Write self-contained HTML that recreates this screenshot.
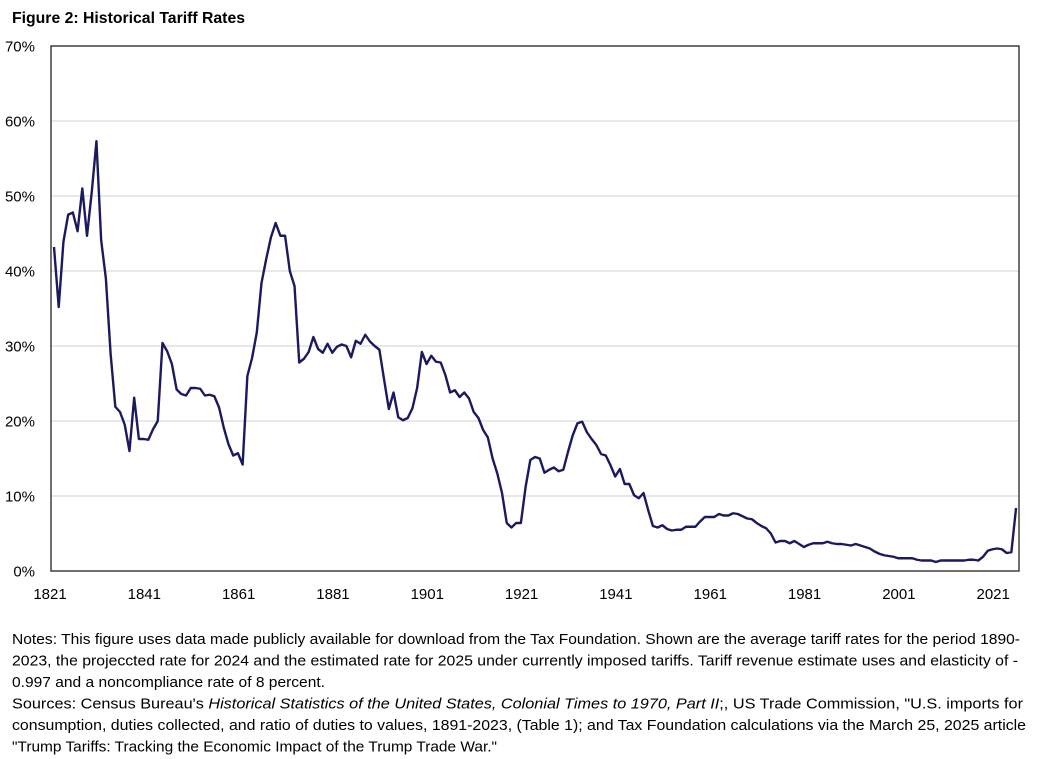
<!DOCTYPE html>
<html><head><meta charset="utf-8"><style>
html,body{margin:0;padding:0;background:#fff;width:1044px;height:759px;overflow:hidden}
svg{display:block;font-family:"Liberation Sans",sans-serif}
</style></head><body>
<svg id="chart" width="1044" height="759" viewBox="0 0 1044 759">
<text x="12" y="23" font-size="15.5" font-weight="bold" fill="#000" textLength="233" lengthAdjust="spacingAndGlyphs">Figure 2: Historical Tariff Rates</text>
<g id="grid"></g>
<g id="yticks"></g>
<g id="xticks"></g>
<rect x="51" y="46" width="968" height="525" fill="none" stroke="#222" stroke-width="1.3"/>
<path id="line" fill="none" stroke="#1c1a5e" stroke-width="2.4" stroke-linejoin="round"/>
<g font-size="15" fill="#000">
<text x="12" y="644" textLength="1008" lengthAdjust="spacingAndGlyphs">Notes: This figure uses data made publicly available for download from the Tax Foundation. Shown are the average tariff rates for the period 1890-</text>
<text x="12" y="665.5" textLength="1006" lengthAdjust="spacingAndGlyphs">2023,  the projeccted rate for 2024  and the estimated rate for 2025  under currently imposed tariffs. Tariff revenue estimate uses and elasticity of -</text>
<text x="12" y="687" textLength="313" lengthAdjust="spacingAndGlyphs">0.997  and a  noncompliance rate of 8 percent.</text>
<text x="12" y="708.5" textLength="1011" lengthAdjust="spacingAndGlyphs">Sources: Census Bureau's <tspan font-style="italic">Historical Statistics of the United States, Colonial Times to 1970,  Part II</tspan>;, US Trade Commission, "U.S. imports for</text>
<text x="12" y="730" textLength="1014" lengthAdjust="spacingAndGlyphs">consumption, duties collected, and ratio of duties to values, 1891-2023,  (Table 1); and Tax Foundation calculations via the March 25,  2025 article</text>
<text x="12" y="751.5" textLength="485" lengthAdjust="spacingAndGlyphs">"Trump Tariffs: Tracking the Economic Impact of the Trump Trade War."</text>
</g>
</svg>
<script>
const startYear = 1821;
const tariffRates = [
43.2,35.2,43.9,47.5,47.8,45.3,51.0,44.7,50.5,57.3,
44.1,39.0,29.0,21.9,21.2,19.5,16.0,23.1,17.6,17.6,
17.5,18.9,20.0,30.4,29.3,27.6,24.2,23.6,23.4,24.4,
24.4,24.3,23.4,23.5,23.3,21.8,19.1,16.9,15.4,15.7,
14.2,26.0,28.4,31.8,38.4,41.6,44.5,46.4,44.7,44.7,
40.0,38.0,27.8,28.3,29.2,31.2,29.6,29.1,30.3,29.1,
29.9,30.2,30.0,28.5,30.7,30.3,31.5,30.6,30.0,29.5,
25.5,21.6,23.8,20.5,20.1,20.4,21.7,24.4,29.2,27.6,
28.7,27.9,27.8,26.1,23.8,24.1,23.2,23.8,23.0,21.2,
20.4,18.8,17.8,15.0,13.0,10.4,6.4,5.8,6.4,6.4,
11.2,14.8,15.2,15.0,13.1,13.5,13.8,13.3,13.5,15.9,
18.1,19.7,19.9,18.5,17.6,16.8,15.6,15.4,14.1,12.6,
13.6,11.6,11.6,10.1,9.7,10.4,8.1,6.0,5.8,6.1,
5.6,5.4,5.5,5.5,5.9,5.9,5.9,6.6,7.2,7.2,
7.2,7.6,7.4,7.4,7.7,7.6,7.3,7.0,6.9,6.4,
6.0,5.7,5.0,3.8,4.0,4.0,3.7,4.0,3.6,3.2,
3.5,3.7,3.7,3.7,3.9,3.7,3.6,3.6,3.5,3.4,
3.6,3.4,3.2,3.0,2.6,2.3,2.1,2.0,1.9,1.7,
1.7,1.7,1.7,1.5,1.4,1.4,1.4,1.2,1.4,1.4,
1.4,1.4,1.4,1.4,1.5,1.5,1.4,1.9,2.7,2.9,
3.0,2.9,2.4,2.5,8.4
];
const yTicks = [0,10,20,30,40,50,60,70];
const xTickYears = [1821,1841,1861,1881,1901,1921,1941,1961,1981,2001,2021];

const NS = "http://www.w3.org/2000/svg";
const x0 = 54, pxPerYear = 4.716, y0 = 571, pxPerPct = 7.5;
function xs(year){ return x0 + (year - startYear) * pxPerYear; }
function ys(v){ return y0 - v * pxPerPct; }

const grid = document.getElementById('grid');
const yg = document.getElementById('yticks');
yTicks.forEach(t => {
  if (t > 0 && t < 70) {
    const l = document.createElementNS(NS, 'line');
    l.setAttribute('x1', 51); l.setAttribute('x2', 1019);
    l.setAttribute('y1', ys(t)); l.setAttribute('y2', ys(t));
    l.setAttribute('stroke', '#d9d9d9'); l.setAttribute('stroke-width', '1.2');
    
    
    grid.appendChild(l);
  }
  const tx = document.createElementNS(NS, 'text');
  tx.setAttribute('x', 35); tx.setAttribute('y', ys(t) + 5.5);
  tx.setAttribute('text-anchor', 'end'); tx.setAttribute('font-size', '15');
  tx.textContent = t + '%';
  
  
  yg.appendChild(tx);
});
const xg = document.getElementById('xticks');
xTickYears.forEach(yr => {
  const tx = document.createElementNS(NS, 'text');
  tx.setAttribute('x', xs(yr) - 4); tx.setAttribute('y', 599);
  tx.setAttribute('text-anchor', 'middle'); tx.setAttribute('font-size', '15');
  tx.textContent = yr;
  
  
  xg.appendChild(tx);
});
let d = '';
tariffRates.forEach((v, i) => {
  d += (i ? 'L' : 'M') + xs(startYear + i).toFixed(2) + ',' + ys(v).toFixed(2);
});
document.getElementById('line').setAttribute('d', d);
</script>
</body></html>
